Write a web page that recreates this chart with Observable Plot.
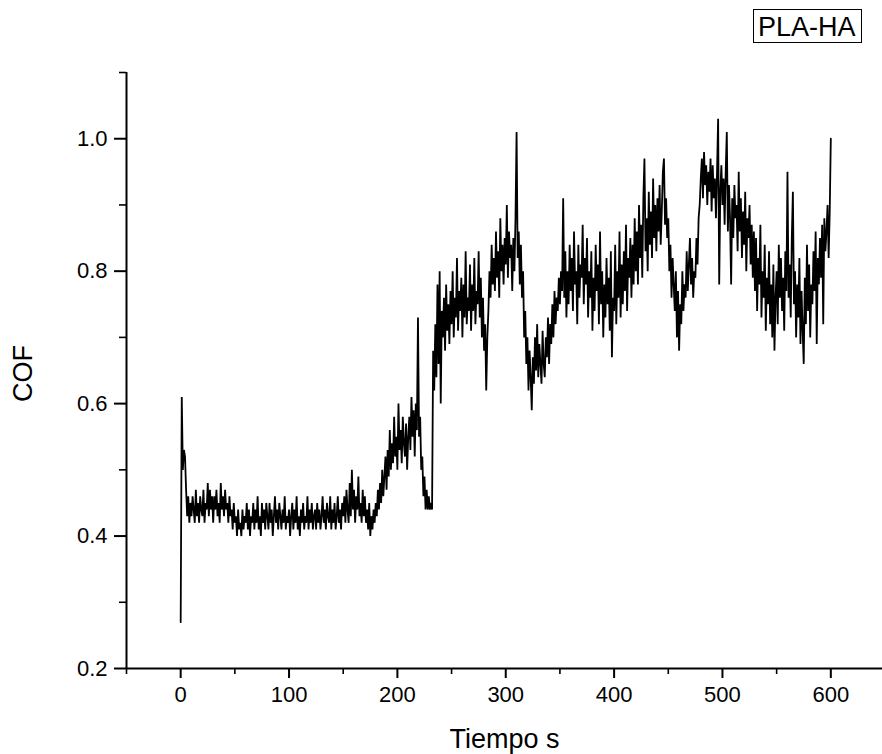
<!DOCTYPE html>
<html>
<head>
<meta charset="utf-8">
<script src="https://cdn.jsdelivr.net/npm/d3@7"></script>
<script src="https://cdn.jsdelivr.net/npm/@observablehq/plot@0.6"></script>
<style>
  html, body { margin: 0; padding: 0; background: #fff; }
  #chart svg { display: block; font-family: "Liberation Sans", Arial, sans-serif; }
</style>
</head>
<body>
<div id="chart"></div>
<script>
// Sampling: one reading per second starting at t = 0 s
const t0 = 0, dt = 1;

// COF readings
const cof = [
  0.27, 0.61, 0.50, 0.53, 0.52, 0.47, 0.43, 0.46, 0.42, 0.45,
  0.43, 0.46, 0.44, 0.42, 0.47, 0.43, 0.45, 0.42, 0.46, 0.44,
  0.43, 0.47, 0.42, 0.45, 0.44, 0.48, 0.43, 0.47, 0.44, 0.46,
  0.42, 0.46, 0.44, 0.47, 0.43, 0.45, 0.42, 0.48, 0.44, 0.46,
  0.43, 0.47, 0.44, 0.45, 0.42, 0.46, 0.43, 0.44, 0.41, 0.45,
  0.42, 0.43, 0.40, 0.44, 0.41, 0.42, 0.40, 0.44, 0.41, 0.43,
  0.42, 0.45, 0.41, 0.44, 0.40, 0.43, 0.42, 0.45, 0.41, 0.44,
  0.42, 0.46, 0.41, 0.43, 0.40, 0.45, 0.42, 0.44, 0.41, 0.45,
  0.43, 0.41, 0.45, 0.42, 0.44, 0.40, 0.43, 0.46, 0.42, 0.44,
  0.41, 0.45, 0.43, 0.41, 0.44, 0.42, 0.46, 0.41, 0.43, 0.42,
  0.44, 0.40, 0.43, 0.45, 0.41, 0.44, 0.42, 0.46, 0.41, 0.43,
  0.40, 0.44, 0.42, 0.45, 0.41, 0.43, 0.42, 0.46, 0.41, 0.44,
  0.42, 0.45, 0.41, 0.43, 0.44, 0.41, 0.45, 0.42, 0.44, 0.41,
  0.43, 0.46, 0.42, 0.44, 0.41, 0.45, 0.43, 0.42, 0.46, 0.41,
  0.44, 0.42, 0.45, 0.41, 0.43, 0.46, 0.42, 0.44, 0.41, 0.45,
  0.43, 0.46, 0.42, 0.47, 0.44, 0.42, 0.48, 0.43, 0.50, 0.44,
  0.47, 0.42, 0.46, 0.44, 0.49, 0.43, 0.45, 0.42, 0.47, 0.43,
  0.46, 0.42, 0.44, 0.41, 0.45, 0.40, 0.43, 0.41, 0.44, 0.42,
  0.45, 0.43, 0.47, 0.44, 0.48, 0.45, 0.50, 0.46, 0.49, 0.52,
  0.47, 0.53, 0.49, 0.56, 0.50, 0.54, 0.51, 0.58, 0.52, 0.55,
  0.50, 0.60, 0.53, 0.56, 0.51, 0.58, 0.54, 0.52, 0.57, 0.50,
  0.55, 0.58, 0.53, 0.61, 0.55, 0.59, 0.52, 0.60, 0.56, 0.73,
  0.55, 0.58, 0.50, 0.52, 0.46, 0.49, 0.44, 0.47, 0.44, 0.46,
  0.44, 0.45, 0.44, 0.68, 0.62, 0.72, 0.64, 0.78, 0.66, 0.80,
  0.60, 0.74, 0.70, 0.76, 0.68, 0.78, 0.71, 0.75, 0.69, 0.77,
  0.72, 0.80, 0.70, 0.76, 0.73, 0.82, 0.71, 0.77, 0.74, 0.79,
  0.70, 0.78, 0.73, 0.83, 0.72, 0.76, 0.74, 0.81, 0.71, 0.78,
  0.74, 0.82, 0.72, 0.77, 0.75, 0.83, 0.73, 0.79, 0.70, 0.76,
  0.68, 0.72, 0.62, 0.70, 0.74, 0.80, 0.76, 0.84, 0.78, 0.82,
  0.77, 0.86, 0.79, 0.83, 0.76, 0.88, 0.80, 0.84, 0.78, 0.85,
  0.81, 0.90, 0.79, 0.86, 0.82, 0.84, 0.77, 0.85, 0.80, 0.88,
  1.01, 0.82, 0.86, 0.78, 0.84, 0.76, 0.80, 0.70, 0.74, 0.66,
  0.70, 0.62, 0.68, 0.64, 0.59, 0.67, 0.63, 0.70, 0.65, 0.72,
  0.64, 0.69, 0.66, 0.63, 0.71, 0.66, 0.64, 0.70, 0.67, 0.73,
  0.66, 0.72, 0.69, 0.75, 0.70, 0.77, 0.72, 0.76, 0.74, 0.79,
  0.75, 0.80, 0.77, 0.91, 0.76, 0.83, 0.73, 0.80, 0.75, 0.84,
  0.77, 0.82, 0.74, 0.86, 0.78, 0.80, 0.72, 0.84, 0.76, 0.81,
  0.79, 0.87, 0.75, 0.82, 0.78, 0.85, 0.73, 0.80, 0.76, 0.83,
  0.71, 0.79, 0.74, 0.84, 0.77, 0.81, 0.72, 0.86, 0.75, 0.80,
  0.70, 0.78, 0.73, 0.82, 0.75, 0.79, 0.71, 0.83, 0.67, 0.76,
  0.74, 0.84, 0.72, 0.80, 0.76, 0.86, 0.73, 0.81, 0.75, 0.83,
  0.77, 0.87, 0.74, 0.82, 0.79, 0.85, 0.76, 0.84, 0.78, 0.88,
  0.80, 0.86, 0.78, 0.90, 0.82, 0.87, 0.79, 0.91, 0.97, 0.83,
  0.88, 0.80, 0.92, 0.84, 0.89, 0.82, 0.94, 0.85, 0.90, 0.83,
  0.91, 0.86, 0.93, 0.84, 0.89, 0.95, 0.97, 0.87, 0.91, 0.85,
  0.88, 0.80, 0.84, 0.76, 0.82, 0.78, 0.74, 0.80, 0.70, 0.77,
  0.68, 0.75, 0.72, 0.80, 0.74, 0.78, 0.76, 0.83, 0.77, 0.81,
  0.85, 0.78, 0.82, 0.76, 0.80, 0.79, 0.85, 0.81, 0.88, 0.90,
  0.94, 0.97, 0.91, 0.98, 0.93, 0.96, 0.90, 0.95, 0.92, 0.97,
  0.89, 0.96, 0.91, 0.94, 0.88, 0.95, 1.03, 0.78, 0.92, 0.96,
  0.90, 0.94, 0.87, 0.95, 1.01, 0.86, 0.93, 0.88, 0.78, 0.91,
  0.85, 0.93, 0.88, 0.90, 0.83, 0.95, 0.86, 0.91, 0.82, 0.89,
  0.84, 0.92, 0.80, 0.88, 0.85, 0.90, 0.81, 0.87, 0.79, 0.86,
  0.77, 0.85, 0.74, 0.82, 0.78, 0.87, 0.73, 0.80, 0.76, 0.84,
  0.71, 0.79, 0.75, 0.83, 0.72, 0.78, 0.70, 0.81, 0.68, 0.76,
  0.80, 0.72, 0.84, 0.76, 0.82, 0.74, 0.79, 0.71, 0.83, 0.77,
  0.95, 0.76, 0.81, 0.73, 0.85, 0.92, 0.75, 0.80, 0.70, 0.78,
  0.73, 0.82, 0.69, 0.77, 0.71, 0.66, 0.79, 0.72, 0.84, 0.74,
  0.81, 0.70, 0.78, 0.75, 0.83, 0.77, 0.86, 0.69, 0.82, 0.78,
  0.85, 0.79, 0.87, 0.72, 0.88, 0.83, 0.86, 0.90, 0.82, 0.89,
  1.00
];

// Axis ticks
const xMajor = [0, 100, 200, 300, 400, 500, 600];
const xMinor = [-50, 50, 150, 250, 350, 450, 550];
const yMajor = [0.2, 0.4, 0.6, 0.8, 1.0];
const yMinor = [0.3, 0.5, 0.7, 0.9, 1.1];

// Labels
const xLabel = "Tiempo s";
const yLabel = "COF";
const seriesName = "PLA-HA";

const data = cof.map((v, i) => ({ t: t0 + i * dt, cof: v }));

const chart = Plot.plot({
  width: 882,
  height: 754,
  marginLeft: 126,
  marginRight: 0,
  marginTop: 72,
  marginBottom: 86,
  style: { background: "#fff", color: "#000", fontFamily: "Liberation Sans, Arial, sans-serif" },
  x: { domain: [-50, 647.7], axis: null },
  y: { domain: [0.2, 1.1], axis: null },
  marks: [
    Plot.line(data, { x: "t", y: "cof", stroke: "#000", strokeWidth: 1.8, strokeLinejoin: "miter" }),
    // axis lines
    Plot.ruleX([-50], { stroke: "#000", strokeWidth: 2 }),
    Plot.ruleY([0.2], { stroke: "#000", strokeWidth: 2 }),
    // y axis
    Plot.axisY(yMajor, { anchor: "left", tickSize: 12, tickPadding: 7, fontSize: 22, strokeWidth: 2,
      tickFormat: d3.format(".1f"), label: null }),
    Plot.axisY(yMinor, { anchor: "left", tickSize: 7, strokeWidth: 1.6, tickFormat: null, text: null, label: null }),
    // x axis
    Plot.axisX(xMajor, { anchor: "bottom", tickSize: 10, tickPadding: 8, fontSize: 22, strokeWidth: 2,
      tickFormat: d => String(d), label: null }),
    Plot.axisX(xMinor, { anchor: "bottom", tickSize: 6, strokeWidth: 1.6, tickFormat: null, text: null, label: null }),
    // axis titles
    Plot.text([xLabel], { frameAnchor: "bottom", dy: 79, lineAnchor: "bottom", fontSize: 27, fill: "#000", text: d => d }),
    Plot.text([yLabel], { frameAnchor: "left", dx: -103, dy: 3, rotate: -90, textAnchor: "middle", lineAnchor: "middle", fontSize: 27, fill: "#000", text: d => d })
  ]
});

// Legend box (top right)
const svg = d3.select(chart);
const lg = svg.append("g").attr("font-family", "Liberation Sans, Arial, sans-serif");
lg.append("rect").attr("x", 753.5).attr("y", 9.5).attr("width", 108).attr("height", 33)
  .attr("fill", "#fff").attr("stroke", "#000").attr("stroke-width", 1);
lg.append("text").attr("x", 758).attr("y", 36).attr("font-size", 27).attr("text-anchor", "start")
  .attr("fill", "#000").text(seriesName);

document.getElementById("chart").appendChild(chart);
</script>
</body>
</html>
